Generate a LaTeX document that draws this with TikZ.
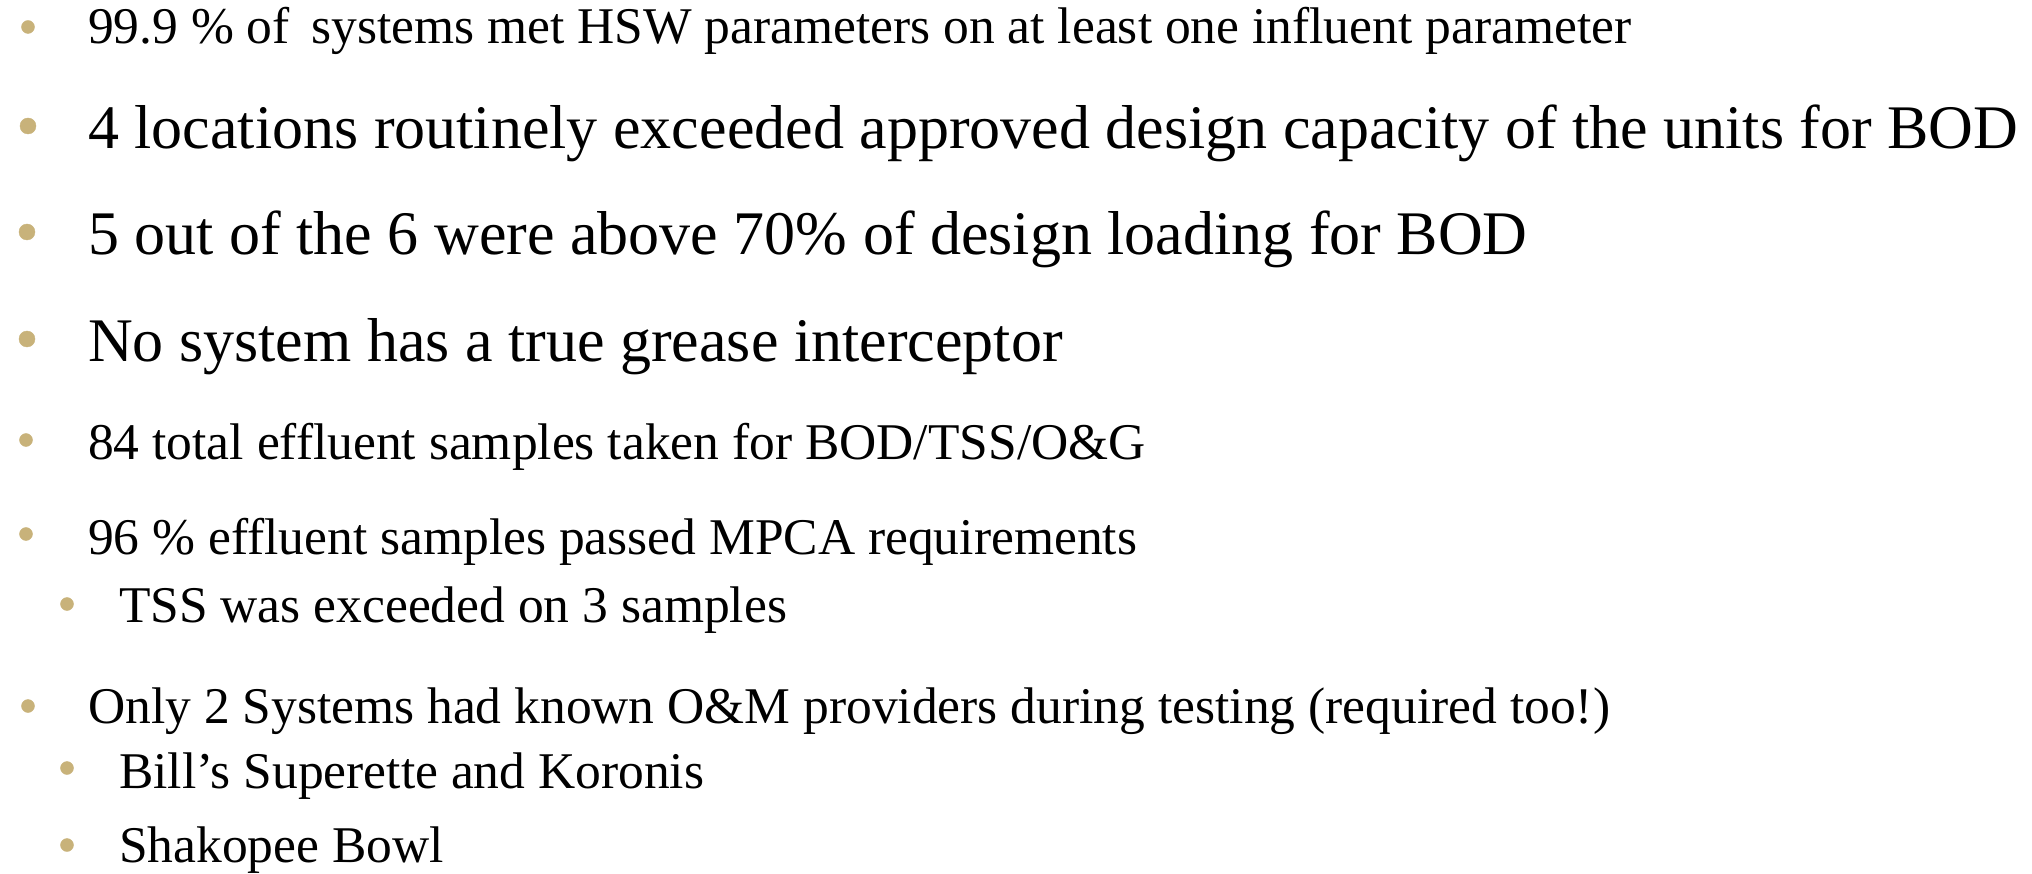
\documentclass[tikz,border=0pt]{standalone}
\usepackage{fontspec}
\setmainfont{Liberation Serif}
\definecolor{bullettan}{RGB}{200,178,122}
\begin{document}
\begin{tikzpicture}[x=1pt,y=-1pt,
  smalltext/.style={anchor=base west,inner sep=0pt,font=\fontsize{51.5}{60}\selectfont},
  bigtext/.style={anchor=base west,inner sep=0pt,font=\fontsize{62}{72}\selectfont}]
\useasboundingbox (0,0) rectangle (2032,874);

% top level items
\draw [color=bullettan,fill=bullettan] (28,27) circle (6.5);
\node[smalltext] (hsw) at (88,44) {99.9 \% of\, systems met HSW parameters on at least one influent parameter};
\draw [color=bullettan,fill=bullettan] (28,126) circle (8);
\node[bigtext] (capacity) at (88,149) {4 locations routinely exceeded approved design capacity of the units for BOD};
\draw [color=bullettan,fill=bullettan] (27,232) circle (8);
\node[bigtext] (loading) at (88,255) {5 out of the 6 were above 70\% of design loading for BOD};
\draw [color=bullettan,fill=bullettan] (27,339) circle (8);
\node[bigtext] (grease) at (88,362) {No system has a true grease interceptor};
\draw [color=bullettan,fill=bullettan] (26,440) circle (6.5);
\node[smalltext] (samples) at (88,459) {84 total effluent samples taken for BOD/TSS/O\&G};
\draw [color=bullettan,fill=bullettan] (26,534) circle (6.5);
\node[smalltext] (passed) at (88,554) {96 \% effluent samples passed MPCA requirements};

% sub items
\draw [color=bullettan,fill=bullettan] (67,604) circle (6.5);
\node[smalltext] (tss) at (119,622) {TSS was exceeded on 3 samples};

\draw [color=bullettan,fill=bullettan] (28,706) circle (6.5);
\node[smalltext] (providers) at (88,723) {Only 2 Systems had known O\&M providers during testing (required too!)};
\draw [color=bullettan,fill=bullettan] (67,768) circle (6.5);
\node[smalltext] (koronis) at (119,788) {Bill’s Superette and Koronis};
\draw [color=bullettan,fill=bullettan] (67,845) circle (6.5);
\node[smalltext] (bowl) at (119,862) {Shakopee Bowl};

\end{tikzpicture}
\end{document}
